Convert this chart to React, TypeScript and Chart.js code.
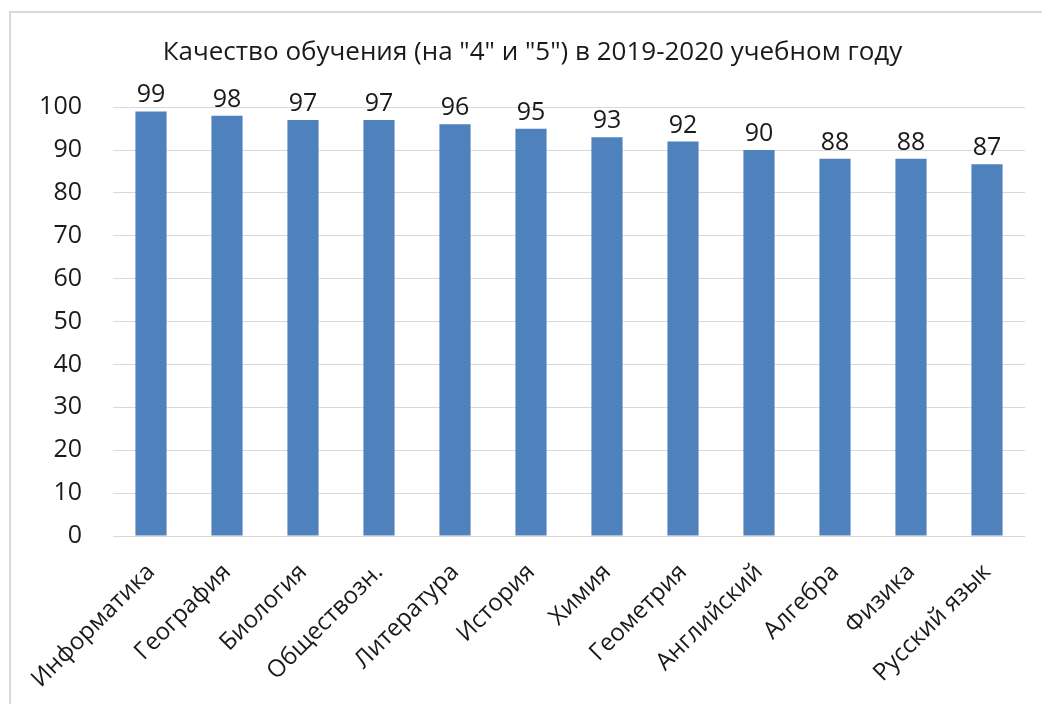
import React, { useEffect, useRef } from "react";
import { Chart, registerables } from "chart.js";

Chart.register(...registerables);

const categories = [
  "Информатика",
  "География",
  "Биология",
  "Обществозн.",
  "Литература",
  "История",
  "Химия",
  "Геометрия",
  "Английский",
  "Алгебра",
  "Физика",
  "Русский язык",
];
const values = [99, 98, 97, 97, 96, 95, 93, 92, 90, 88, 88, 86.7];
const titleText = 'Качество обучения (на "4" и "5") в 2019-2020 учебном году';
const yMin = 0;
const yMax = 100;
const yStep = 10;

const FONT = "'Open Sans', 'Noto Sans', sans-serif";

const dataLabels = {
  id: "dataLabels",
  afterDatasetsDraw(chart: any) {
    const ctx = chart.ctx;
    const meta = chart.getDatasetMeta(0);
    ctx.save();
    ctx.font = `25px ${FONT}`;
    ctx.fillStyle = "#1a1a1a";
    ctx.textAlign = "center";
    ctx.textBaseline = "alphabetic";
    meta.data.forEach((bar: any, i: number) => {
      ctx.fillText(String(Math.round(values[i])), bar.x, bar.y - 9);
    });
    ctx.restore();
  },
};

export default function App() {
  const ref = useRef<HTMLCanvasElement>(null);
  useEffect(() => {
    if (!ref.current) return;
    const chart = new Chart(ref.current, {
      type: "bar",
      data: {
        labels: categories,
        datasets: [
          {
            data: values,
            backgroundColor: "#4F81BD",
            borderWidth: 0,
            barPercentage: 0.41,
            categoryPercentage: 1,
          },
        ],
      },
      options: {
        animation: false,
        responsive: false,
        maintainAspectRatio: false,
        layout: { padding: { top: 0, right: 17, bottom: 0, left: 40 } },
        plugins: {
          legend: { display: false },
          tooltip: { enabled: false },
          title: {
            display: true,
            text: titleText,
            color: "#1a1a1a",
            font: { family: FONT, size: 26, weight: "normal" },
            padding: { top: 37, bottom: 39 },
          },
        },
        scales: {
          x: {
            grid: { display: false, drawTicks: false },
            border: { display: false },
            ticks: {
              color: "#1a1a1a",
              font: { family: FONT, size: 24 },
              minRotation: 45,
              maxRotation: 45,
              padding: 22,
              autoSkip: false,
            },
            afterFit: (s: any) => {
              s.height = 168;
            },
          },
          y: {
            min: yMin,
            max: yMax,
            grid: { color: "#d9d9d9", lineWidth: 1, drawTicks: false },
            border: { display: false },
            ticks: {
              stepSize: yStep,
              color: "#1a1a1a",
              font: { family: FONT, size: 25 },
              padding: 31,
            },
            afterFit: (s: any) => {
              s.width = 73;
            },
          },
        },
      },
      plugins: [dataLabels],
    });
    return () => chart.destroy();
  }, []);
  return (
    <div
      style={{
        position: "fixed",
        left: 0,
        top: 0,
        width: 1042,
        height: 704,
        background: "#fff",
        overflow: "hidden",
      }}
    >
      <div
        style={{
          position: "absolute",
          left: 9,
          top: 11,
          width: 1100,
          height: 800,
          border: "2px solid #d9d9d9",
        }}
      />
      <canvas
        ref={ref}
        width={1042}
        height={704}
        style={{ position: "absolute", left: 0, top: 0 }}
      />
    </div>
  );
}
